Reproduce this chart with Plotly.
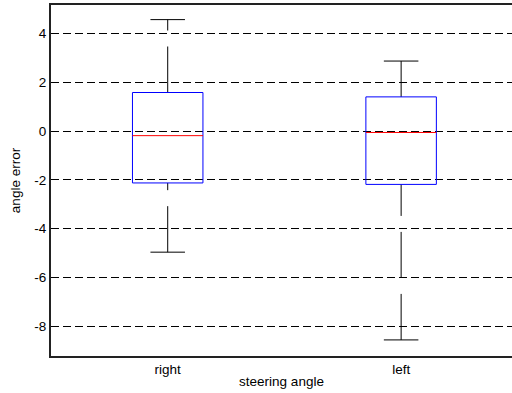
import plotly.graph_objects as go

categories = ["right", "left"]
lower_whisker = [-4.97, -8.57]
q1 = [-2.13, -2.19]
median = [-0.19, -0.06]
q3 = [1.58, 1.40]
upper_whisker = [4.57, 2.87]
y_ticks = [-8, -6, -4, -2, 0, 2, 4]

BOX_HW = 0.151
CAP_HW = 0.074
FONT = "Liberation Sans, Arial, sans-serif"
FS = 13.5

fig = go.Figure()
for i, cat in enumerate(categories):
    c = i + 1
    # whiskers (drawn from lower value to higher value, dashed)
    fig.add_trace(go.Scatter(x=[c, c], y=[q3[i], upper_whisker[i]], mode="lines",
                             line=dict(color="black", width=1, dash="46px,16px"),
                             showlegend=False, hoverinfo="skip"))
    fig.add_trace(go.Scatter(x=[c, c], y=[lower_whisker[i], q1[i]], mode="lines",
                             line=dict(color="black", width=1, dash="46px,16px"),
                             showlegend=False, hoverinfo="skip"))
    # caps
    for v in (lower_whisker[i], upper_whisker[i]):
        fig.add_trace(go.Scatter(x=[c - CAP_HW, c + CAP_HW], y=[v, v], mode="lines",
                                 line=dict(color="black", width=1),
                                 showlegend=False, hoverinfo="skip"))
    # box
    fig.add_trace(go.Scatter(x=[c - BOX_HW, c + BOX_HW, c + BOX_HW, c - BOX_HW, c - BOX_HW],
                             y=[q1[i], q1[i], q3[i], q3[i], q1[i]], mode="lines",
                             line=dict(color="#0000ff", width=1),
                             showlegend=False, hoverinfo="skip"))
    # median
    fig.add_trace(go.Scatter(x=[c - BOX_HW, c + BOX_HW], y=[median[i], median[i]], mode="lines",
                             line=dict(color="#ff0000", width=1),
                             showlegend=False, hoverinfo="skip"))

fig.update_layout(
    width=512, height=393,
    margin=dict(l=51, r=0, t=5, b=37),
    paper_bgcolor="white", plot_bgcolor="white",
    font=dict(family=FONT, size=FS, color="black"),
    xaxis=dict(range=[0.5, 2.475], tickvals=[1, 2], ticktext=categories,
               showgrid=False, zeroline=False, showline=True, linecolor="#222",
               linewidth=2, mirror=True, ticks="",
               title=dict(text="steering angle", standoff=0, font=dict(size=FS))),
    yaxis=dict(range=[-9.23, 5.17], tickvals=y_ticks, ticktext=[str(t) for t in y_ticks],
               showgrid=True, gridcolor="black", griddash="8px,4px", gridwidth=1,
               zeroline=False, showline=True, linecolor="#222", linewidth=2, mirror=False,
               ticks="inside", ticklen=4, tickcolor="black",
               title=dict(text="angle error", standoff=11, font=dict(size=FS))),
)

fig.write_html("out.html", config={"displayModeBar": False},
               post_script="document.body.style.margin='0';document.body.style.overflow='hidden';")
